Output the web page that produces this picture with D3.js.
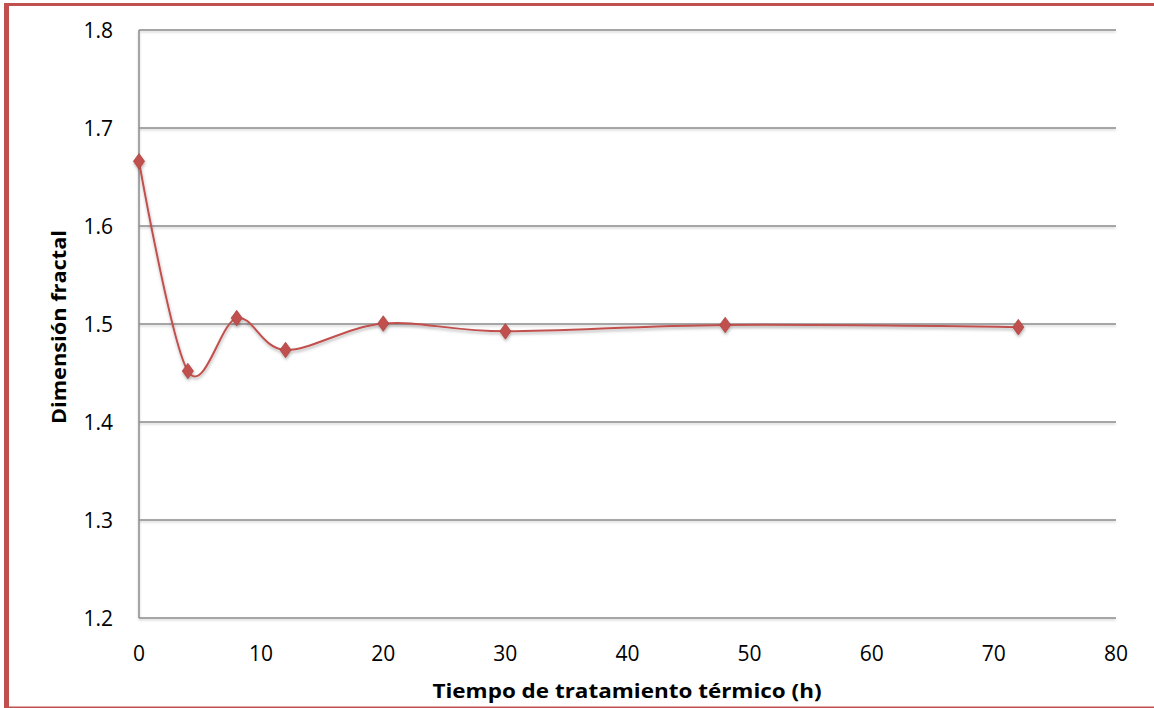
<!DOCTYPE html>
<html><head><meta charset="utf-8">
<script src="https://cdn.jsdelivr.net/npm/d3@7"></script>
<style>body{margin:0;background:#fff}svg{display:block}</style>
</head><body>
<svg id="c" width="1154" height="708"></svg>
<script>
const hours = [0, 4, 8, 12, 20, 30, 48, 72];
const fractalDim = [1.666, 1.452, 1.506, 1.4735, 1.5005, 1.4925, 1.499, 1.4968];
const xTicks = [0, 10, 20, 30, 40, 50, 60, 70, 80];
const yTicks = [1.2, 1.3, 1.4, 1.5, 1.6, 1.7, 1.8];
const xTitle = "Tiempo de tratamiento térmico (h)";
const yTitle = "Dimensión fractal";

const svg = d3.select("#c");
const W = 1154, H = 708;
const m = {l: 139, r: 1116, t: 30, b: 618};
const x = d3.scaleLinear().domain([0, 80]).range([m.l, m.r]);
const y = d3.scaleLinear().domain([1.2, 1.8]).range([m.b, m.t]);
const red = "#c0504d";
const font = "'Open Sans', Lato, sans-serif";

const defs = svg.append("defs");
const f = defs.append("filter").attr("id","sh").attr("x","-50%").attr("y","-50%").attr("width","200%").attr("height","200%");
f.append("feDropShadow").attr("dx",0.5).attr("dy",2).attr("stdDeviation",1.5).attr("flood-color","#000").attr("flood-opacity",0.3);
const g2 = defs.append("filter").attr("id","gsh").attr("x","-5%").attr("y","-100%").attr("width","110%").attr("height","400%");
g2.append("feDropShadow").attr("dx",0).attr("dy",1.5).attr("stdDeviation",0.8).attr("flood-color","#000").attr("flood-opacity",0.2);

// frame
svg.append("rect").attr("x",4).attr("y",3).attr("width",W-4).attr("height",3).attr("fill",red);
svg.append("rect").attr("x",4).attr("y",3).attr("width",5).attr("height",H-3).attr("fill",red);
svg.append("rect").attr("x",4).attr("y",706.5).attr("width",W-4).attr("height",1.5).attr("fill",red);

// gridlines
const grid = svg.append("g").attr("filter","url(#gsh)");
grid.selectAll("line.h").data(yTicks).join("line")
  .attr("x1", m.l).attr("x2", m.r)
  .attr("y1", d => y(d)).attr("y2", d => y(d))
  .attr("stroke", "#8c8c8c").attr("stroke-width", 1.5);
grid.append("line").attr("x1", m.l).attr("x2", m.l).attr("y1", m.t).attr("y2", m.b)
  .attr("stroke", "#8c8c8c").attr("stroke-width", 1.5);

// tick labels
svg.append("g").selectAll("text").data(yTicks).join("text")
  .attr("x", 113).attr("y", d => y(d)).attr("dy", "0.36em")
  .attr("text-anchor", "end").attr("font-family", font).attr("font-size", 21)
  .text(d => d.toFixed(1));
svg.append("g").selectAll("text").data(xTicks).join("text")
  .attr("x", d => x(d)).attr("y", 653).attr("dy", "0.36em")
  .attr("text-anchor", "middle").attr("font-family", font).attr("font-size", 21)
  .text(d => d);

// titles
svg.append("text").attr("x", 627).attr("y", 691).attr("dy","0.36em").attr("text-anchor","middle")
  .attr("font-family", font).attr("font-weight","bold").attr("font-size", 20)
  .attr("textLength", 389).attr("lengthAdjust","spacingAndGlyphs").text(xTitle);
svg.append("text").attr("transform","translate(59,327) rotate(-90)").attr("dy","0.36em").attr("text-anchor","middle")
  .attr("font-family", font).attr("font-weight","bold").attr("font-size", 20)
  .attr("textLength", 194).attr("lengthAdjust","spacingAndGlyphs").text(yTitle);

// series
const data = hours.map((h,i) => ({h, v: fractalDim[i]}));
const line = d3.line().x(d => x(d.h)).y(d => y(d.v)).curve(d3.curveCatmullRom.alpha(0));
const sg = svg.append("g").attr("filter","url(#sh)");
sg.append("path").datum(data).attr("d", line).attr("fill","none").attr("stroke", red).attr("stroke-width", 2);
sg.selectAll("path.mk").data(data).join("path").attr("class","mk")
  .attr("d", d3.symbol(d3.symbolDiamond, 70))
  .attr("transform", d => `translate(${x(d.h)},${y(d.v)}) scale(1.25,1)`)
  .attr("fill", red).attr("stroke","#a5403d").attr("stroke-width",0.6);
</script>
</body></html>
